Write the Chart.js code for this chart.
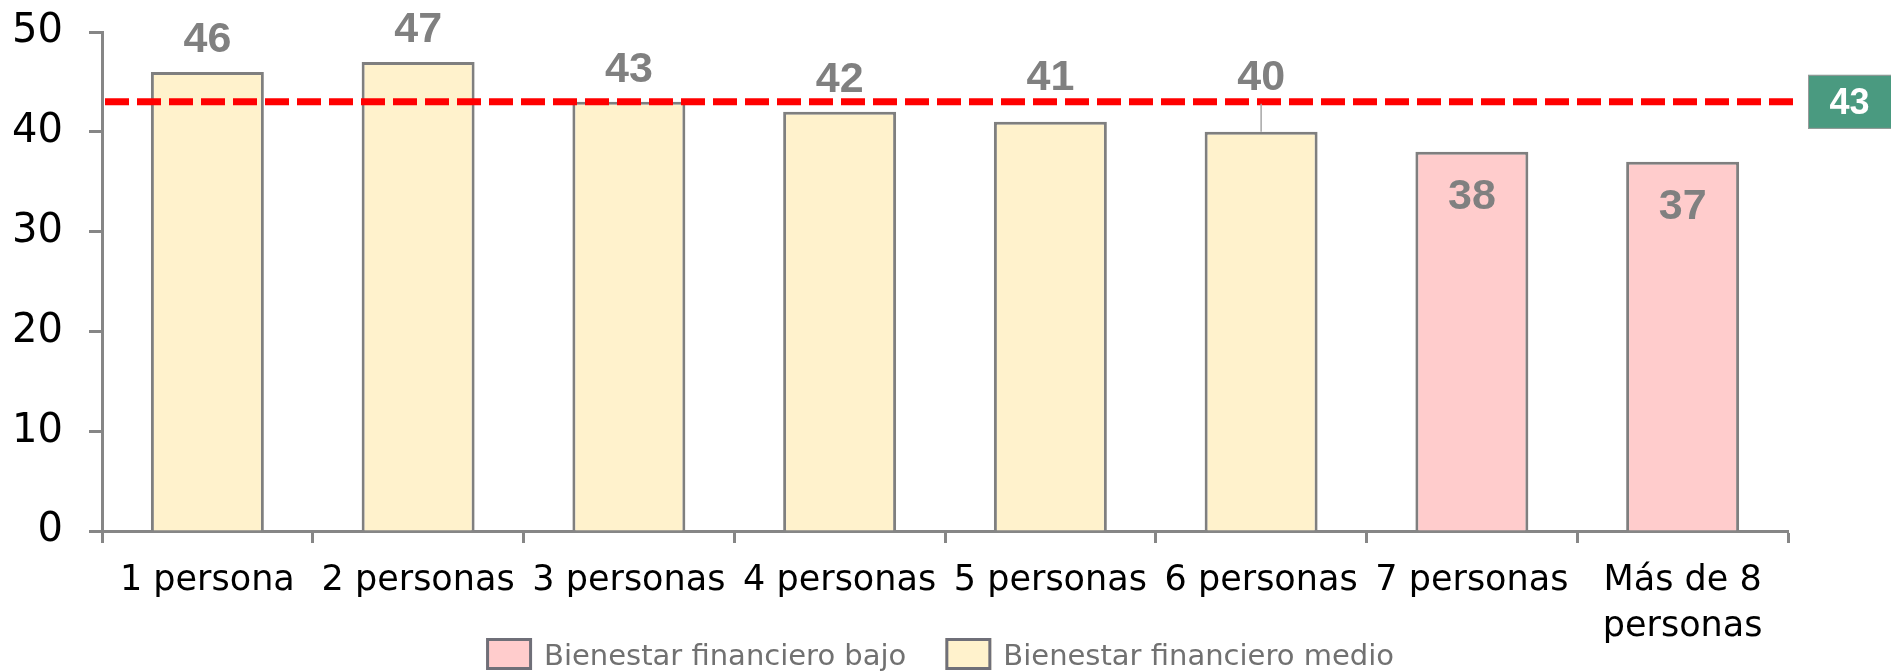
<!DOCTYPE html>
<html>
<head>
<meta charset="utf-8">
<title>Bienestar financiero por tamaño del hogar</title>
<script src="https://cdn.jsdelivr.net/npm/chart.js@4.4.1/dist/chart.umd.min.js"></script>
<style>
  html, body { margin: 0; padding: 0; background: #ffffff; overflow: hidden; }
  #chart { display: block; }
</style>
</head>
<body>
<canvas id="chart" width="1891" height="671"></canvas>
<script>
// Household size categories
const categories = ['1 persona', '2 personas', '3 personas', '4 personas', '5 personas', '6 personas', '7 personas', ['Más de 8', 'personas']];
// Index per group (null where the group does not apply)
const medioValues = [46, 47, 43, 42, 41, 40, null, null];
const bajoValues  = [null, null, null, null, null, null, 38, 37];
// Reference level shown as a dashed line with its badge
const referenceValue = 43;
// Value axis ticks
const yTicks = [0, 10, 20, 30, 40, 50];

const seriesLabels = ['Bienestar financiero bajo', 'Bienestar financiero medio'];

const AXIS_GREY = '#868686';
const LABEL_GREY = '#808080';

// Dashed reference line plus the green badge at the right
const referenceLinePlugin = {
  id: 'referenceLine',
  afterDatasetsDraw(chart) {
    const { ctx, chartArea, scales } = chart;
    const y = scales.y.getPixelForValue(referenceValue);
    ctx.save();
    ctx.strokeStyle = '#ff0000';
    ctx.lineWidth = 7;
    ctx.setLineDash([24, 8]);
    ctx.beginPath();
    ctx.moveTo(chartArea.left + 3, y);
    ctx.lineTo(chartArea.right + 5, y);
    ctx.stroke();
    ctx.setLineDash([]);
    const bx = chartArea.right + 20;
    const bw = chart.width - bx;
    const bh = 54;
    ctx.fillStyle = '#4a9a80';
    ctx.fillRect(bx, y - bh / 2, bw, bh);
    ctx.strokeStyle = '#9a9a9a';
    ctx.lineWidth = 1;
    ctx.strokeRect(bx + 0.5, y - bh / 2 + 0.5, bw, bh - 1);
    ctx.fillStyle = '#ffffff';
    ctx.font = 'bold 36px "Liberation Sans", Arial, sans-serif';
    ctx.textAlign = 'center';
    ctx.textBaseline = 'middle';
    ctx.fillText(String(referenceValue), bx + bw / 2, y + 2);
    ctx.restore();
  }
};

// Value labels: above the bar for the "medio" group, inside for "bajo";
// a label that would sit on the dashed line is lifted over it with a leader.
const valueLabelPlugin = {
  id: 'valueLabels',
  afterDraw(chart) {
    const { ctx, scales } = chart;
    const lineY = scales.y.getPixelForValue(referenceValue);
    const digitH = 31;
    ctx.save();
    ctx.font = 'bold 43px "Liberation Sans", Arial, sans-serif';
    ctx.fillStyle = LABEL_GREY;
    ctx.textAlign = 'center';
    ctx.textBaseline = 'alphabetic';
    chart.data.datasets.forEach((ds, di) => {
      const meta = chart.getDatasetMeta(di);
      meta.data.forEach((bar, i) => {
        const v = ds.data[i];
        if (v === null || v === undefined) return;
        const top = bar.y;
        let baseline;
        if (ds.labelInside) {
          baseline = top + 57;
        } else {
          baseline = top - 20;
          if (baseline >= lineY - 4 && baseline - digitH <= lineY + 4) {
            baseline = lineY - 12;
            if (top - baseline > 36) {
              ctx.save();
              ctx.strokeStyle = '#a6a6a6';
              ctx.lineWidth = 1.5;
              ctx.beginPath();
              ctx.moveTo(bar.x, baseline + 14);
              ctx.lineTo(bar.x, top);
              ctx.stroke();
              ctx.restore();
            }
          }
        }
        ctx.fillText(String(v), bar.x, baseline);
      });
    });
    ctx.restore();
  }
};

// Legend drawn along the bottom edge from the library's legend items
const bottomLegendPlugin = {
  id: 'bottomLegend',
  afterDraw(chart) {
    const { ctx } = chart;
    const items = Chart.defaults.plugins.legend.labels.generateLabels(chart);
    const boxW = 46, boxH = 32, gapText = 12, gapItem = 39;
    ctx.save();
    ctx.font = '29px "DejaVu Sans", sans-serif';
    const widths = items.map(it => boxW + gapText + ctx.measureText(it.text).width);
    const total = widths.reduce((a, b) => a + b, 0) + gapItem * (items.length - 1);
    let x = 940 - total / 2;
    const boxTop = 638;
    items.forEach((it, i) => {
      ctx.fillStyle = it.fillStyle;
      ctx.fillRect(x, boxTop, boxW, boxH);
      ctx.strokeStyle = '#6f6f78';
      ctx.lineWidth = 3;
      ctx.strokeRect(x + 1.5, boxTop + 1.5, boxW - 3, boxH - 3);
      ctx.fillStyle = '#717171';
      ctx.textAlign = 'left';
      ctx.textBaseline = 'alphabetic';
      ctx.fillText(it.text, x + boxW + gapText, 665);
      x += widths[i] + gapItem;
    });
    ctx.restore();
  }
};

const ctx = document.getElementById('chart').getContext('2d');
new Chart(ctx, {
  type: 'bar',
  data: {
    labels: categories,
    datasets: [
      {
        label: seriesLabels[0],
        data: bajoValues,
        backgroundColor: '#ffcccc',
        borderColor: '#7f7f7f',
        borderWidth: 3,
        borderSkipped: 'start',
        labelInside: true
      },
      {
        label: seriesLabels[1],
        data: medioValues,
        backgroundColor: '#fff2cc',
        borderColor: '#7f7f7f',
        borderWidth: 3,
        borderSkipped: 'start',
        labelInside: false
      }
    ]
  },
  options: {
    responsive: false,
    maintainAspectRatio: false,
    animation: false,
    devicePixelRatio: 1,
    layout: { padding: { top: 32, right: 103, bottom: 0, left: 0 } },
    datasets: { bar: { barPercentage: 0.536, categoryPercentage: 1.0 } },
    plugins: {
      legend: { display: false },
      tooltip: { enabled: false }
    },
    scales: {
      x: {
        stacked: true,
        grid: {
          offset: true,
          drawOnChartArea: false,
          drawTicks: true,
          tickLength: 12,
          tickColor: AXIS_GREY,
          tickWidth: 3
        },
        border: { display: true, color: AXIS_GREY, width: 3 },
        ticks: {
          color: '#000000',
          font: { family: '"DejaVu Sans", sans-serif', size: 35, lineHeight: 1.32 },
          padding: 15,
          maxRotation: 0,
          autoSkip: false
        },
        afterFit(scale) { scale.height = 140; }
      },
      y: {
        stacked: true,
        min: yTicks[0],
        max: yTicks[yTicks.length - 1],
        afterBuildTicks(scale) { scale.ticks = yTicks.map(v => ({ value: v })); },
        grid: {
          drawOnChartArea: false,
          drawTicks: true,
          tickLength: 13,
          tickColor: AXIS_GREY,
          tickWidth: 3
        },
        border: { display: true, color: AXIS_GREY, width: 3 },
        ticks: {
          color: '#000000',
          font: { family: '"DejaVu Sans", sans-serif', size: 40 },
          padding: 26
        },
        afterFit(scale) {
          scale.width = 102;
          scale.paddingTop = 0;
          scale.paddingBottom = 0;
        }
      }
    }
  },
  plugins: [referenceLinePlugin, valueLabelPlugin, bottomLegendPlugin]
});
</script>
</body>
</html>
